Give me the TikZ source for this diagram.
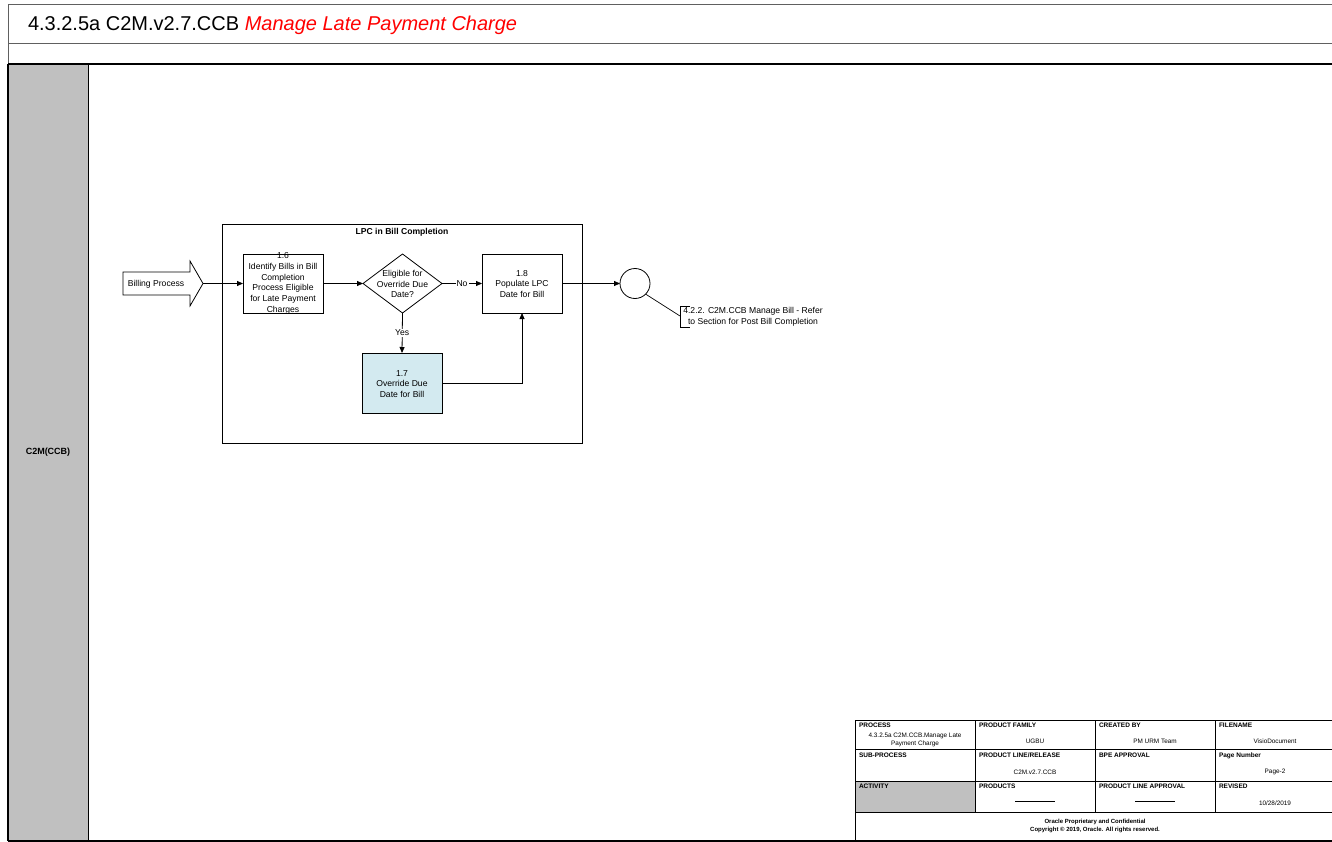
\documentclass[tikz,border=0pt]{standalone}
\usepackage{fontspec}
\setmainfont{Liberation Sans}
\usetikzlibrary{shapes.geometric,arrows.meta,calc}
\definecolor{lanegray}{HTML}{C0C0C0}
\definecolor{boxblue}{HTML}{D3EAF0}
\definecolor{framegray}{HTML}{606060}
\begin{document}
\begin{tikzpicture}[x=1pt,y=-1pt,
  every node/.style={inner sep=0pt, outer sep=0pt},
  fnt/.style={font=\fontsize{8.6}{10.7}\selectfont},
  proc/.style={draw, line width=0.8pt, minimum width=80pt, minimum height=59pt},
  decision/.style={draw, diamond, line width=0.8pt, minimum width=79pt, minimum height=59pt},
  txt/.style={fnt, align=center},
  conn/.style={line width=0.8pt, -{Triangle[length=6pt,width=5pt]}},
  lbl/.style={fnt, fill=white, inner sep=1pt},
  tlab/.style={font=\fontsize{6.5}{7}\selectfont\bfseries, anchor=north west},
  tval/.style={font=\fontsize{6.4}{7.8}\selectfont, align=center},
  tline/.style={line width=0.7pt}
]
\useasboundingbox (0,0) rectangle (1332,842);
% frame
\fill[lanegray] (8,64) rectangle (88,841);
\draw[framegray, line width=1pt] (8,841) -- (8,5) -- (1340,5);
\draw[framegray, line width=1pt] (8,44) -- (1340,44);
\draw[line width=2pt] (8,64) -- (1340,64);
\draw[line width=1pt] (88,64) -- (88,841);
\draw[line width=1.2pt] (8,841) -- (1340,841);
\draw[line width=1.2pt] (8,64) -- (8,841);
\node[anchor=west, font=\fontsize{20}{24}\selectfont] (title) at (28,25) {4.3.2.5a C2M.v2.7.CCB \textcolor{red}{\itshape Manage Late Payment Charge}};
\node[font=\fontsize{9}{10}\selectfont\bfseries] (lane) at (48,452) {C2M(CCB)};

% container
\draw[line width=0.9pt] (222,224) rectangle (582,443);
\node[font=\fontsize{8.6}{10}\selectfont\bfseries] (ctitle) at (402,232) {LPC in Bill Completion};

% billing process block arrow
\draw[line width=0.8pt, fill=white] (123,272) -- (190,272) -- (190,261) -- (203,283.5) -- (190,306) -- (190,295) -- (123,295) -- cycle;
\node[fnt] (billing) at (156,284) {Billing Process};
\coordinate (bptip) at (203,283.5);

% boxes
\node[proc] (b16) at (283,283.5) {};
\node[txt] (t16) at (b16.center) {1.6\\Identify Bills in Bill\\Completion\\Process Eligible\\for Late Payment\\Charges};
\node[decision] (d) at (402.5,283.5) {};
\node[txt] (td) at (402.5,284) {Eligible for\\Override Due\\Date?};
\node[proc] (b18) at (522,283.5) {};
\node[txt] (t18) at (522,284) {1.8\\Populate LPC\\Date for Bill};
\node[proc, fill=boxblue, minimum height=60pt] (b17) at (402,383) {};
\node[txt] (t17) at (402,384) {1.7\\Override Due\\Date for Bill};
\node[draw, circle, line width=0.8pt, minimum size=30pt] (end) at (635,283.5) {};

% connectors
\draw[conn] (bptip) -- (b16.west);
\draw[conn] (b16.east) -- (d.west);
\draw[conn] (d.east) -- node[lbl] {No} (b18.west);
\draw[conn] (d.south) -- node[lbl, pos=0.5] {Yes} (b17.north);
\draw[conn] (b17.east) -| (b18.south);
\draw[conn] (b18.east) -- (end.west);

% annotation
\coordinate (ann) at (680,316);
\draw[line width=0.7pt] (end.south east) -- (ann);
\draw[line width=0.7pt] (690,306) -- (680,306) -- (680,327) -- (690,327);
\node[txt] (annt) at (753,316.5) {4.2.2. C2M.CCB Manage Bill - Refer\\to Section for Post Bill Completion};

% footer table
\fill[lanegray] (855,781) rectangle (975,812);
\draw[tline] (855,841) -- (855,720) -- (1340,720);
\draw[tline] (855,749) -- (1340,749);
\draw[tline] (855,781) -- (1340,781);
\draw[line width=1pt] (855,812) -- (1340,812);
\draw[tline] (975,720) -- (975,812);
\draw[tline] (1095,720) -- (1095,812);
\draw[tline] (1215,720) -- (1215,812);

\node[tlab] (p1) at (859,723) {PROCESS};
\node[tlab] (p2) at (979,723) {PRODUCT FAMILY};
\node[tlab] (p3) at (1099,723) {CREATED BY};
\node[tlab] (p4) at (1219,723) {FILENAME};
\node[tval] (v1) at (915,740) {4.3.2.5a C2M.CCB.Manage Late\\Payment Charge};
\node[tval] (v2) at (1035,741) {UGBU};
\node[tval] (v3) at (1155,741) {PM URM Team};
\node[tval] (v4) at (1275,741) {VisioDocument};

\node[tlab] (q1) at (859,753) {SUB-PROCESS};
\node[tlab] (q2) at (979,753) {PRODUCT LINE/RELEASE};
\node[tlab] (q3) at (1099,753) {BPE APPROVAL};
\node[tlab] (q4) at (1219,753) {Page Number};
\node[tval] (w2) at (1035,772) {C2M.v2.7.CCB};
\node[tval] (w4) at (1275,772) {Page-2};

\node[tlab] (r1) at (859,784) {ACTIVITY};
\node[tlab] (r2) at (979,784) {PRODUCTS};
\node[tlab] (r3) at (1099,784) {PRODUCT LINE APPROVAL};
\node[tlab] (r4) at (1219,784) {REVISED};
\node[tval] (s2) at (1035,801) {\rule{40pt}{0.4pt}};
\node[tval] (s3) at (1155,801) {\rule{40pt}{0.4pt}};
\node[tval] (s4) at (1275,803) {10/28/2019};

\node[font=\fontsize{6}{7.2}\selectfont\bfseries, align=center] (copy) at (1095,826) {Oracle Proprietary and Confidential\\Copyright \textcopyright{} 2019, Oracle. All rights reserved.};
\end{tikzpicture}
\end{document}
